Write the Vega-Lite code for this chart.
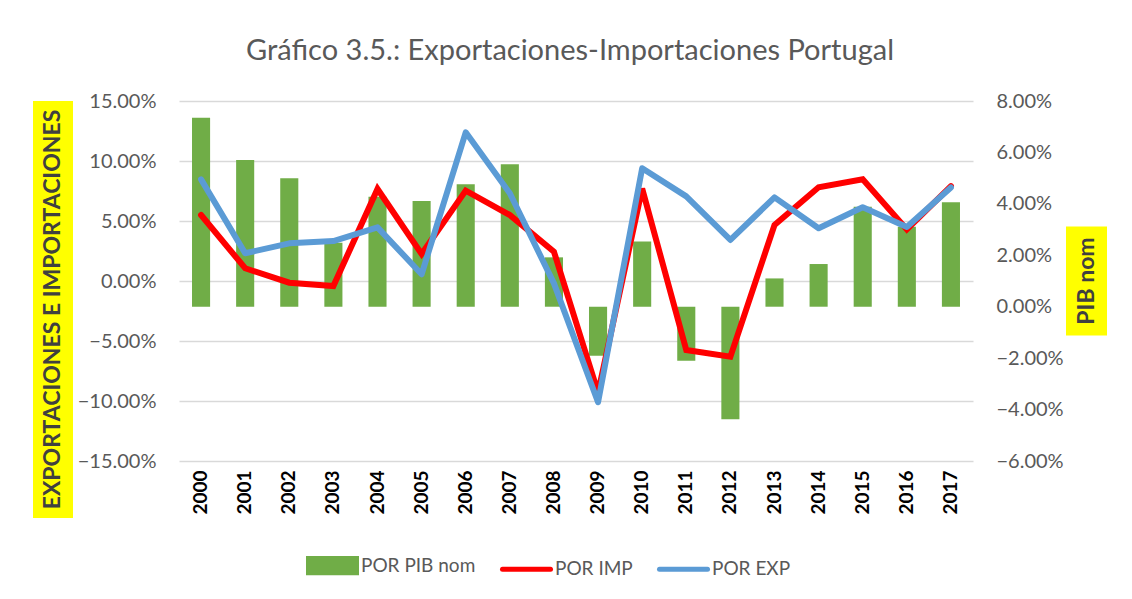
{
  "$schema": "https://vega.github.io/schema/vega-lite/v6.json",
  "padding": {"left": 33, "top": 37, "right": 0, "bottom": 0},
  "background": "white",
  "title": {"text": "Gráfico 3.5.: Exportaciones-Importaciones Portugal", "font": "Lato", "fontSize": 29, "fontWeight": "normal", "color": "#595959", "anchor": "middle", "offset": 25},
  "config": {"view": {"stroke": null}, "font": "Lato"},
  "bounds": "flush",
  "spacing": 106,
  "hconcat": [
    {
      "width": 40,
      "height": 417,
      "data": {"values": [{"label": "EXPORTACIONES E IMPORTACIONES"}]},
      "layer": [
        {"mark": {"type": "rect", "color": "#FFFF00"}, "encoding": {}},
        {"mark": {"type": "text", "angle": 270, "font": "Lato", "fontSize": 23, "fontWeight": "bold", "color": "#404040", "baseline": "middle", "align": "center"}, "encoding": {"text": {"field": "label"}}}
      ]
    },
    {
      "bounds": "flush",
      "center": true,
      "spacing": 93,
      "hconcat": [
        {
          "width": 794,
          "height": 360,
          "data": {"values": [
            {"year": "2000", "pib": 0.0735, "imp": 0.055, "exp": 0.0847},
            {"year": "2001", "pib": 0.0571, "imp": 0.0106, "exp": 0.0231},
            {"year": "2002", "pib": 0.05, "imp": -0.0014, "exp": 0.0314},
            {"year": "2003", "pib": 0.0249, "imp": -0.0042, "exp": 0.0333},
            {"year": "2004", "pib": 0.0428, "imp": 0.0767, "exp": 0.0447},
            {"year": "2005", "pib": 0.0411, "imp": 0.0225, "exp": 0.0056},
            {"year": "2006", "pib": 0.0476, "imp": 0.0753, "exp": 0.1239},
            {"year": "2007", "pib": 0.0554, "imp": 0.055, "exp": 0.0731},
            {"year": "2008", "pib": 0.0192, "imp": 0.0244, "exp": -0.002},
            {"year": "2009", "pib": -0.0191, "imp": -0.093, "exp": -0.101},
            {"year": "2010", "pib": 0.0254, "imp": 0.077, "exp": 0.094},
            {"year": "2011", "pib": -0.021, "imp": -0.0575, "exp": 0.0705},
            {"year": "2012", "pib": -0.0438, "imp": -0.0631, "exp": 0.0342},
            {"year": "2013", "pib": 0.011, "imp": 0.0467, "exp": 0.0697},
            {"year": "2014", "pib": 0.0166, "imp": 0.0781, "exp": 0.0439},
            {"year": "2015", "pib": 0.0389, "imp": 0.0847, "exp": 0.0614},
            {"year": "2016", "pib": 0.0311, "imp": 0.043, "exp": 0.045},
            {"year": "2017", "pib": 0.0406, "imp": 0.079, "exp": 0.078}
          ]},
          "encoding": {
            "x": {"field": "year", "type": "ordinal", "scale": {"paddingInner": 0.59, "paddingOuter": 0.295},
              "axis": {"title": null, "labelAngle": -90, "labelFont": "Lato", "labelFontSize": 19, "labelFontWeight": "bold", "labelColor": "#000000", "domain": false, "ticks": false, "labelPadding": 9}}
          },
          "layer": [
            {
              "mark": {"type": "bar"},
              "encoding": {
                "y": {"field": "pib", "type": "quantitative", "scale": {"domain": [-0.06, 0.08], "nice": false},
                  "axis": {"orient": "right", "title": null, "values": [-0.06, -0.04, -0.02, 0, 0.02, 0.04, 0.06, 0.08], "format": ".2%", "grid": false, "domain": false, "ticks": false, "labelPadding": 23, "labelFont": "Lato", "labelFontSize": 20, "labelColor": "#595959"}},
                "color": {"datum": "POR PIB nom", "type": "nominal",
                  "scale": {"domain": ["POR PIB nom", "POR IMP", "POR EXP"], "range": ["#70AD47", "#FF0000", "#5B9BD5"]},
                  "legend": {"orient": "none", "legendX": 273, "legendY": 438, "direction": "horizontal", "title": null,
                    "labelFont": "Lato", "labelFontSize": 19, "labelColor": "#595959", "symbolSize": 2304, "labelOffset": 2, "columnPadding": 16,
                    "encode": {"symbols": {"update": {
                      "shape": {"signal": "datum.value === 'POR PIB nom' ? 'M-1,-0.3H1V0.3H-1Z' : 'M-1,0H1'"},
                      "fill": {"signal": "datum.value === 'POR PIB nom' ? '#70AD47' : 'transparent'"},
                      "stroke": {"signal": "datum.value === 'POR IMP' ? '#FF0000' : (datum.value === 'POR EXP' ? '#5B9BD5' : 'transparent')"},
                      "strokeWidth": {"value": 5},
                      "strokeCap": {"value": "round"},
                      "opacity": {"value": 1}
                    }}}}
                }
              }
            },
            {
              "layer": [
                {
                  "mark": {"type": "line", "strokeWidth": 6, "strokeCap": "round"},
                  "encoding": {
                    "y": {"field": "imp", "type": "quantitative", "scale": {"domain": [-0.15, 0.15], "nice": false},
                      "axis": {"orient": "left", "title": null, "values": [-0.15, -0.1, -0.05, 0, 0.05, 0.1, 0.15], "format": ".2%", "grid": true, "gridColor": "#D9D9D9", "gridWidth": 1.5, "domain": false, "ticks": false, "labelPadding": 23, "labelFont": "Lato", "labelFontSize": 20, "labelColor": "#595959"}},
                    "color": {"datum": "POR IMP", "type": "nominal"}
                  }
                },
                {
                  "mark": {"type": "line", "strokeWidth": 6, "strokeCap": "round", "strokeJoin": "round"},
                  "encoding": {
                    "y": {"field": "exp", "type": "quantitative"},
                    "color": {"datum": "POR EXP", "type": "nominal"}
                  }
                }
              ]
            }
          ],
          "resolve": {"scale": {"y": "independent"}}
        },
        {
          "width": 41,
          "height": 109,
          "data": {"values": [{"label": "PIB nom"}]},
          "layer": [
            {"mark": {"type": "rect", "color": "#FFFF00"}, "encoding": {}},
            {"mark": {"type": "text", "angle": 270, "font": "Lato", "fontSize": 23, "fontWeight": "bold", "color": "#404040", "baseline": "middle", "align": "center"}, "encoding": {"text": {"field": "label"}}}
          ]
        }
      ]
    }
  ]
}
